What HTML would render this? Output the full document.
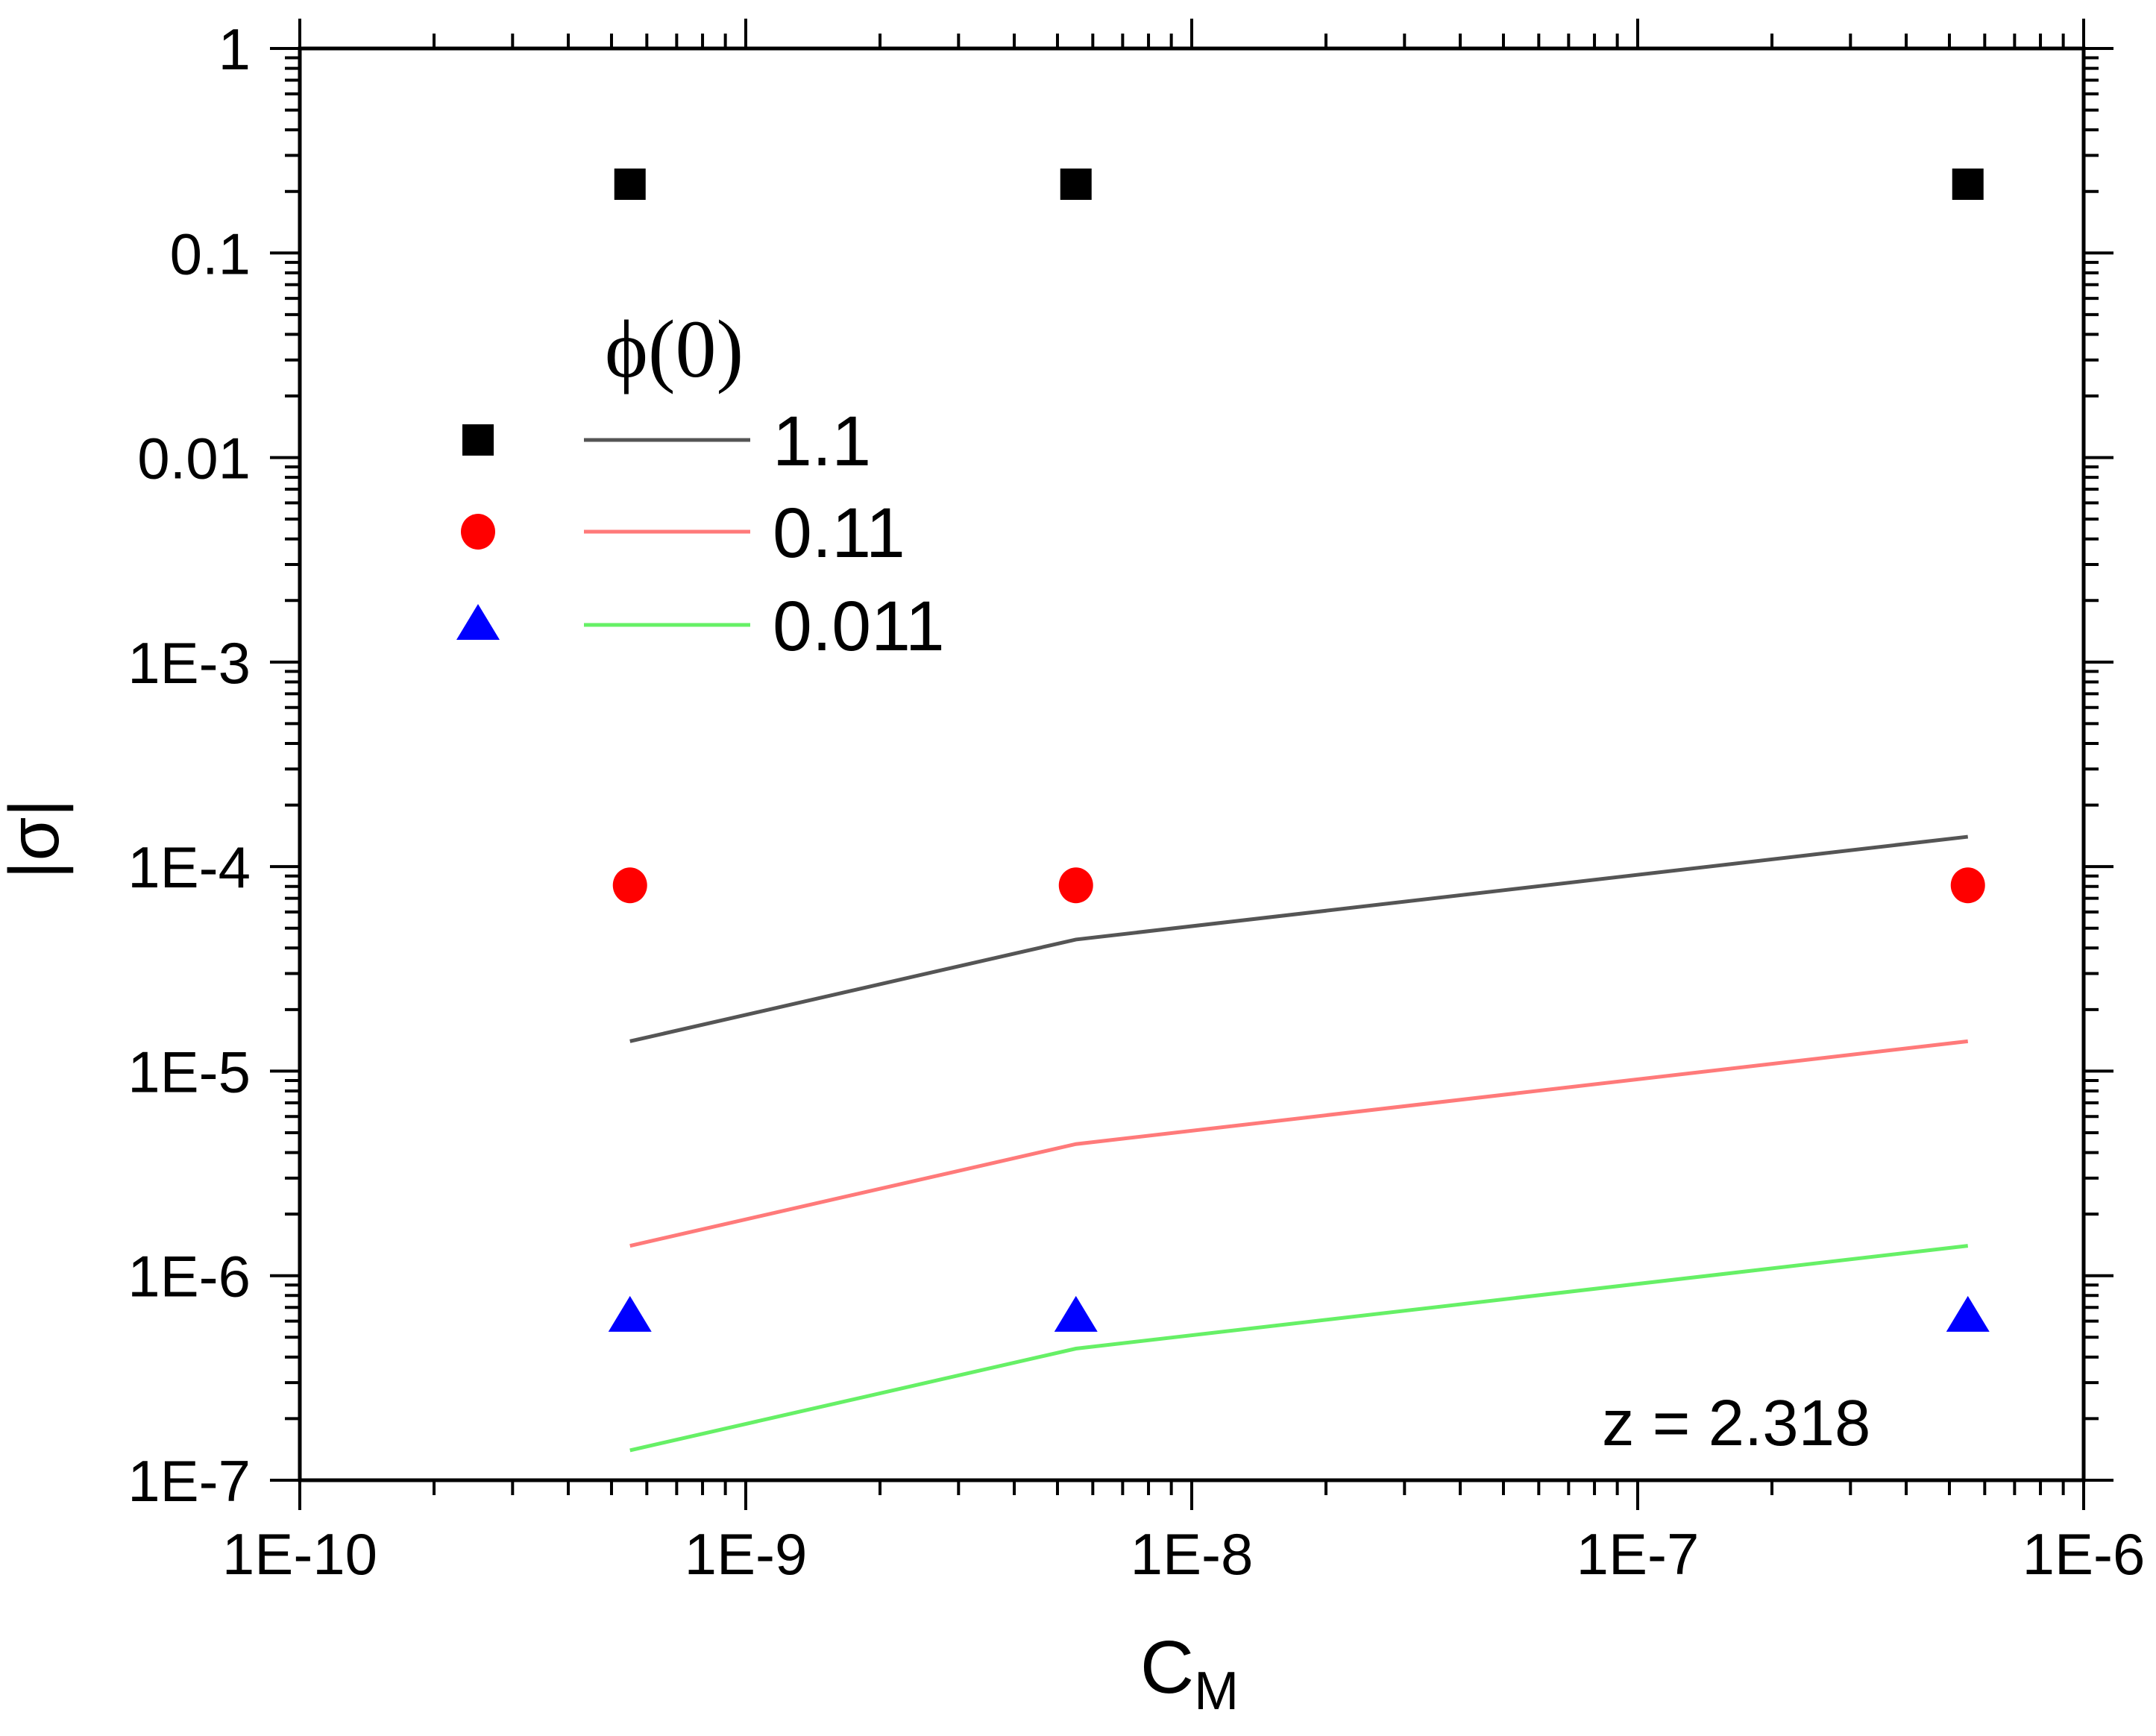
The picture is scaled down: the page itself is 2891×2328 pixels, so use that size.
<!DOCTYPE html>
<html><head><meta charset="utf-8"><style>
html,body{margin:0;padding:0;background:#fff;}
svg{display:block;}
text{font-family:"Liberation Sans",Arial,sans-serif;fill:#000;}
</style></head><body>
<svg id="chart" width="2891" height="2328" viewBox="0 0 2891 2328" xmlns="http://www.w3.org/2000/svg">
<rect width="2891" height="2328" fill="#fff"/>
<g id="grid"></g>
<g id="series"></g>
<text x="2148" y="1938" font-size="87">z = 2.318</text>
<text x="1595" y="2270" font-size="100" text-anchor="middle">C<tspan font-size="72" dy="22">M</tspan></text>
<text transform="translate(78,1125) rotate(-90)" font-size="95" text-anchor="middle">|σ|</text>
<g>
<text x="811" y="505" font-size="110" style="font-family:'Liberation Serif',serif">ϕ(0)</text>
<g>
<rect x="620" y="569" width="42" height="42" fill="#000"/>
<line x1="783" y1="590" x2="1006" y2="590" stroke="#555" stroke-width="5"/>
<text x="1036" y="624" font-size="95">1.1</text></g>
<g>
<ellipse cx="641" cy="713" rx="23" ry="24" fill="#f00"/>
<line x1="783" y1="713" x2="1006" y2="713" stroke="#ff7a7a" stroke-width="5"/>
<text x="1036" y="747" font-size="95">0.11</text></g>
<g>
<polygon points="641,810 670,858 612,858" fill="#00f"/>
<line x1="783" y1="838" x2="1006" y2="838" stroke="#66f066" stroke-width="5"/>
<text x="1036" y="872" font-size="95">0.011</text></g>
</g>
</svg>
<script>
const xValues = [5.5e-10, 5.5e-9, 5.5e-7];
const squareValues = [0.217, 0.217, 0.217];
const circleValues = [8.1e-5, 8.1e-5, 8.1e-5];
const triangleValues = [6.4e-7, 6.4e-7, 6.4e-7];
const lineBlack = [1.4e-5, 4.4e-5, 1.4e-4];
const lineRed = [1.4e-6, 4.4e-6, 1.4e-5];
const lineGreen = [1.4e-7, 4.4e-7, 1.4e-6];
const xTickLabels = ["1E-10","1E-9","1E-8","1E-7","1E-6"];
const yTickLabels = ["1E-7","1E-6","1E-5","1E-4","1E-3","0.01","0.1","1"];

const NS = "http://www.w3.org/2000/svg";
const X0 = 402, X1 = 2794, Y0 = 1985, Y1 = 65;
function xs(v){ return X0 + (Math.log10(v) + 10) / 4 * (X1 - X0); }
function ys(v){ return Y0 - (Math.log10(v) + 7) / 7 * (Y0 - Y1); }
function mk(tag, attrs, parent){ const e = document.createElementNS(NS, tag); for (const k in attrs) e.setAttribute(k, attrs[k]); parent.appendChild(e); return e; }
const axes = document.getElementById('grid');
const ser = document.getElementById('series');

// frame
const frame = mk('rect', {x:X0, y:Y1, width:X1-X0, height:Y0-Y1, fill:'none', stroke:'#000', 'stroke-width':5}, axes);



// x ticks
for (let d = -10; d <= -6; d++) {
  for (let m = 1; m <= 9; m++) {
    if (d === -6 && m > 1) break;
    const x = xs(m * Math.pow(10, d));
    const L = m === 1 ? 40 : 20;
    const t1 = mk('line', {x1:x, y1:Y0, x2:x, y2:Y0+L, stroke:'#000', 'stroke-width':4}, axes);
    
    
    const t2 = mk('line', {x1:x, y1:Y1, x2:x, y2:Y1-L, stroke:'#000', 'stroke-width':4}, axes);
    
    
  }
}
xTickLabels.forEach((lab, i) => {
  const t = mk('text', {x:xs(Math.pow(10, -10 + i)), y:2111, 'font-size':78, 'text-anchor':'middle'}, axes);
  t.textContent = lab;
  
  
});
// y ticks
for (let d = -7; d <= 0; d++) {
  for (let m = 1; m <= 9; m++) {
    if (d === 0 && m > 1) break;
    const y = ys(m * Math.pow(10, d));
    const L = m === 1 ? 40 : 20;
    const t1 = mk('line', {x1:X0, y1:y, x2:X0-L, y2:y, stroke:'#000', 'stroke-width':4}, axes);
    
    
    const t2 = mk('line', {x1:X1, y1:y, x2:X1+L, y2:y, stroke:'#000', 'stroke-width':4}, axes);
    
    
  }
}
yTickLabels.forEach((lab, i) => {
  const t = mk('text', {x:336, y:ys(Math.pow(10, -7 + i)) + 28, 'font-size':78, 'text-anchor':'end'}, axes);
  t.textContent = lab;
  
  
});

// lines
[[lineBlack,'#555','line-1.1'],[lineRed,'#ff7a7a','line-0.11'],[lineGreen,'#66f066','line-0.011']].forEach(([arr,col,name]) => {
  const pts = arr.map((v,i) => xs(xValues[i]) + ',' + ys(v)).join(' ');
  const p = mk('polyline', {points:pts, fill:'none', stroke:col, 'stroke-width':5}, ser);
  
  
});
// markers
squareValues.forEach((v,i) => {
  const r = mk('rect', {x:xs(xValues[i])-21, y:ys(v)-21, width:42, height:42, fill:'#000'}, ser);
  
  
});
circleValues.forEach((v,i) => {
  const c = mk('ellipse', {cx:xs(xValues[i]), cy:ys(v), rx:23, ry:24, fill:'#f00'}, ser);
  
  
});
triangleValues.forEach((v,i) => {
  const x = xs(xValues[i]), y = ys(v);
  const t = mk('polygon', {points:`${x},${y-26} ${x+29},${y+22} ${x-29},${y+22}`, fill:'#00f'}, ser);
  
  
});
</script>
</body></html>
